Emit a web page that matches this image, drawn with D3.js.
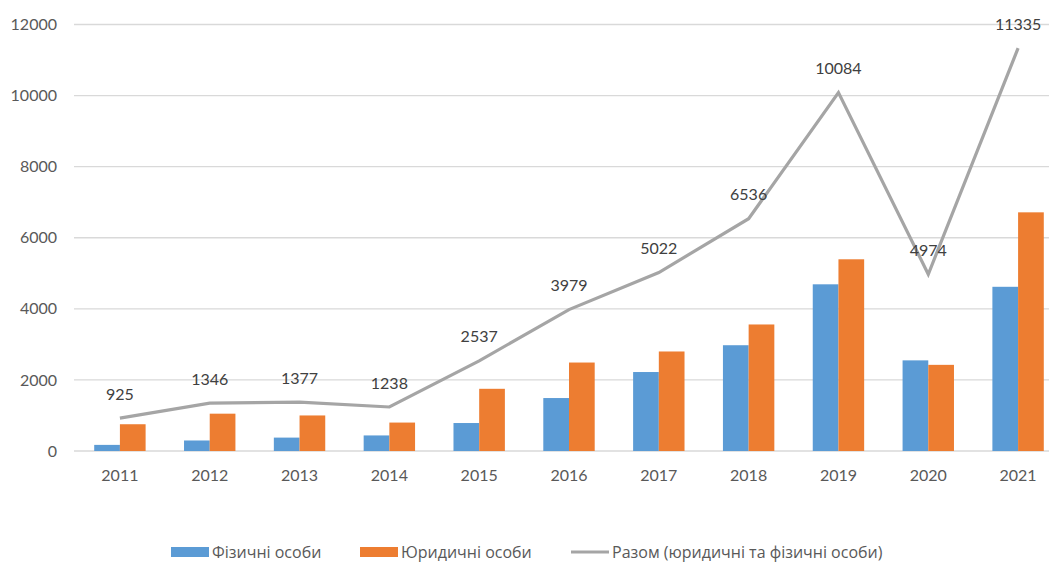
<!DOCTYPE html>
<html>
<head>
<meta charset="utf-8">
<script src="https://cdn.jsdelivr.net/npm/d3@7"></script>
<style>
  body { margin: 0; background: #fff; }
  svg { display: block; font-family: Lato, "Open Sans", sans-serif; }
</style>
</head>
<body>
<div id="chart"></div>
<script>
const years = ["2011", "2012", "2013", "2014", "2015", "2016", "2017", "2018", "2019", "2020", "2021"]
const individuals = [172, 296, 377, 438, 787, 1490, 2222, 2976, 4690, 2550, 4620]
const legalEntities = [753, 1050, 1000, 800, 1750, 2489, 2800, 3560, 5394, 2424, 6715]
const totals = [925, 1346, 1377, 1238, 2537, 3979, 5022, 6536, 10084, 4974, 11335]
const yTicks = [0, 2000, 4000, 6000, 8000, 10000, 12000]
const seriesNames = ["Фізичні особи", "Юридичні особи", "Разом (юридичні та фізичні особи)"]

const width = 1049, height = 562
const blue = "#5b9bd5", orange = "#ed7d31", grey = "#a5a5a5"

const svg = d3.select("#chart").append("svg")
  .attr("width", width).attr("height", height)

// plot runs past the right edge like the original crop
const x = d3.scaleBand().domain(years).range([75, 1063]).padding(0)
const y = d3.scaleLinear().domain([0, 12000]).range([451, 24.5])
const barW = 25.7

// gridlines
svg.append("g").selectAll("line")
  .data(yTicks).enter().append("line")
  .attr("x1", 74).attr("x2", width)
  .attr("y1", d => y(d)).attr("y2", d => y(d))
  .attr("stroke", "#d9d9d9").attr("stroke-width", 1.3)

// y labels
svg.append("g").selectAll("text")
  .data(yTicks).enter().append("text")
  .attr("x", 57).attr("y", d => y(d))
  .attr("dy", "0.35em").attr("text-anchor", "end")
  .attr("font-size", 16).attr("fill", "#595959")
  .text(d => d)

// x labels
svg.append("g").selectAll("text")
  .data(years).enter().append("text")
  .attr("x", d => x(d) + x.bandwidth() / 2).attr("y", 481)
  .attr("text-anchor", "middle")
  .attr("font-size", 16).attr("fill", "#595959")
  .text(d => d)

// bars
const mid = d => x(d) + x.bandwidth() / 2
svg.append("g").selectAll("rect")
  .data(years).enter().append("rect")
  .attr("x", d => mid(d) - barW)
  .attr("y", (d, i) => y(individuals[i]))
  .attr("width", barW)
  .attr("height", (d, i) => y(0) - y(individuals[i]))
  .attr("fill", blue)
svg.append("g").selectAll("rect")
  .data(years).enter().append("rect")
  .attr("x", d => mid(d))
  .attr("y", (d, i) => y(legalEntities[i]))
  .attr("width", barW)
  .attr("height", (d, i) => y(0) - y(legalEntities[i]))
  .attr("fill", orange)

// total line
const line = d3.line()
  .x((d, i) => mid(years[i]))
  .y(d => y(d))
svg.append("path")
  .datum(totals)
  .attr("d", line)
  .attr("fill", "none").attr("stroke", grey)
  .attr("stroke-width", 3.2).attr("stroke-linejoin", "miter")

svg.append("g").selectAll("text")
  .data(totals).enter().append("text")
  .attr("x", (d, i) => mid(years[i]))
  .attr("y", d => y(d) - 24)
  .attr("dy", "0.35em").attr("text-anchor", "middle")
  .attr("font-size", 16).attr("fill", "#404040")
  .text(d => d)

// legend
const legend = svg.append("g").attr("font-size", 16)
  .attr("font-family", "'Open Sans', Lato, sans-serif").attr("fill", "#595959")
const items = [
  { name: seriesNames[0], x: 171, color: blue, type: "rect" },
  { name: seriesNames[1], x: 360, color: orange, type: "rect" },
  { name: seriesNames[2], x: 571, color: grey, type: "line" }
]
items.forEach(it => {
  if (it.type === "rect") {
    legend.append("rect").attr("x", it.x).attr("y", 547).attr("width", 38).attr("height", 10).attr("fill", it.color)
  } else {
    legend.append("line").attr("x1", it.x).attr("x2", it.x + 38).attr("y1", 552).attr("y2", 552)
      .attr("stroke", it.color).attr("stroke-width", 3.2)
  }
  legend.append("text").attr("x", it.x + 41).attr("y", 552).attr("dy", "0.35em").text(it.name)
})
</script>
</body>
</html>
